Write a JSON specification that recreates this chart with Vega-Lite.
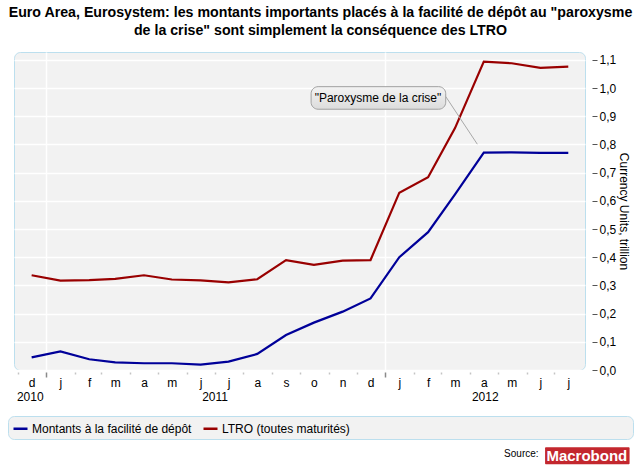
{
  "$schema": "https://vega.github.io/schema/vega-lite/v6.json",
  "width": 571,
  "height": 318,
  "autosize": {"type": "none"},
  "padding": {"left": 14, "top": 52, "right": 56, "bottom": 99},
  "background": "white",
  "view": {"fill": "#f2f2f2", "stroke": "#bcdfee", "strokeWidth": 1, "cornerRadius": 6},
  "title": {
    "text": ["Euro Area, Eurosystem: les montants importants placés à la facilité de dépôt au \"paroxysme", "de la crise\" sont simplement la conséquence des LTRO"],
    "anchor": "middle",
    "frame": "bounds",
    "fontSize": 14.2,
    "fontWeight": "bold",
    "color": "black",
    "lineHeight": 18,
    "offset": 14
  },
  "config": {
    "font": "Liberation Sans",
    "axis": {"labelColor": "black", "titleColor": "black", "labelFontSize": 12, "titleFontWeight": "normal", "titleFontSize": 12}
  },
  "data": {
    "values": [
      {"date": "2010-12-16T00:00:00", "serie": "Montants à la facilité de dépôt", "value": 0.045},
      {"date": "2011-01-16T00:00:00", "serie": "Montants à la facilité de dépôt", "value": 0.066},
      {"date": "2011-02-16T00:00:00", "serie": "Montants à la facilité de dépôt", "value": 0.038},
      {"date": "2011-03-16T00:00:00", "serie": "Montants à la facilité de dépôt", "value": 0.027},
      {"date": "2011-04-16T00:00:00", "serie": "Montants à la facilité de dépôt", "value": 0.024},
      {"date": "2011-05-16T00:00:00", "serie": "Montants à la facilité de dépôt", "value": 0.024},
      {"date": "2011-06-16T00:00:00", "serie": "Montants à la facilité de dépôt", "value": 0.019},
      {"date": "2011-07-16T00:00:00", "serie": "Montants à la facilité de dépôt", "value": 0.030},
      {"date": "2011-08-16T00:00:00", "serie": "Montants à la facilité de dépôt", "value": 0.057},
      {"date": "2011-09-16T00:00:00", "serie": "Montants à la facilité de dépôt", "value": 0.124},
      {"date": "2011-10-16T00:00:00", "serie": "Montants à la facilité de dépôt", "value": 0.168},
      {"date": "2011-11-16T00:00:00", "serie": "Montants à la facilité de dépôt", "value": 0.207},
      {"date": "2011-12-16T00:00:00", "serie": "Montants à la facilité de dépôt", "value": 0.254},
      {"date": "2012-01-16T00:00:00", "serie": "Montants à la facilité de dépôt", "value": 0.400},
      {"date": "2012-02-16T00:00:00", "serie": "Montants à la facilité de dépôt", "value": 0.489},
      {"date": "2012-03-16T00:00:00", "serie": "Montants à la facilité de dépôt", "value": 0.623},
      {"date": "2012-04-16T00:00:00", "serie": "Montants à la facilité de dépôt", "value": 0.771},
      {"date": "2012-05-16T00:00:00", "serie": "Montants à la facilité de dépôt", "value": 0.772},
      {"date": "2012-06-16T00:00:00", "serie": "Montants à la facilité de dépôt", "value": 0.770},
      {"date": "2012-07-16T00:00:00", "serie": "Montants à la facilité de dépôt", "value": 0.770},
      {"date": "2010-12-16T00:00:00", "serie": "LTRO (toutes maturités)", "value": 0.336},
      {"date": "2011-01-16T00:00:00", "serie": "LTRO (toutes maturités)", "value": 0.317},
      {"date": "2011-02-16T00:00:00", "serie": "LTRO (toutes maturités)", "value": 0.319},
      {"date": "2011-03-16T00:00:00", "serie": "LTRO (toutes maturités)", "value": 0.323},
      {"date": "2011-04-16T00:00:00", "serie": "LTRO (toutes maturités)", "value": 0.336},
      {"date": "2011-05-16T00:00:00", "serie": "LTRO (toutes maturités)", "value": 0.321},
      {"date": "2011-06-16T00:00:00", "serie": "LTRO (toutes maturités)", "value": 0.318},
      {"date": "2011-07-16T00:00:00", "serie": "LTRO (toutes maturités)", "value": 0.311},
      {"date": "2011-08-16T00:00:00", "serie": "LTRO (toutes maturités)", "value": 0.322},
      {"date": "2011-09-16T00:00:00", "serie": "LTRO (toutes maturités)", "value": 0.390},
      {"date": "2011-10-16T00:00:00", "serie": "LTRO (toutes maturités)", "value": 0.373},
      {"date": "2011-11-16T00:00:00", "serie": "LTRO (toutes maturités)", "value": 0.388},
      {"date": "2011-12-16T00:00:00", "serie": "LTRO (toutes maturités)", "value": 0.390},
      {"date": "2012-01-16T00:00:00", "serie": "LTRO (toutes maturités)", "value": 0.629},
      {"date": "2012-02-16T00:00:00", "serie": "LTRO (toutes maturités)", "value": 0.684},
      {"date": "2012-03-16T00:00:00", "serie": "LTRO (toutes maturités)", "value": 0.858},
      {"date": "2012-04-16T00:00:00", "serie": "LTRO (toutes maturités)", "value": 1.094},
      {"date": "2012-05-16T00:00:00", "serie": "LTRO (toutes maturités)", "value": 1.088},
      {"date": "2012-06-16T00:00:00", "serie": "LTRO (toutes maturités)", "value": 1.072},
      {"date": "2012-07-16T00:00:00", "serie": "LTRO (toutes maturités)", "value": 1.076}
    ]
  },
  "layer": [
    {
      "mark": {"type": "line", "strokeWidth": 2.2, "clip": false},
      "encoding": {
        "x": {
          "field": "date", "type": "temporal",
          "scale": {"domain": [{"year": 2010, "month": 11, "date": 27}, {"year": 2012, "month": 8, "date": 3}], "nice": false},
          "axis": {
            "orient": "bottom",
            "title": null,
            "values": [
              {"year": 2010, "month": 12, "date": 1}, {"year": 2011, "month": 1, "date": 1}, {"year": 2011, "month": 2, "date": 1},
              {"year": 2011, "month": 3, "date": 1}, {"year": 2011, "month": 4, "date": 1}, {"year": 2011, "month": 5, "date": 1},
              {"year": 2011, "month": 6, "date": 1}, {"year": 2011, "month": 7, "date": 1}, {"year": 2011, "month": 8, "date": 1},
              {"year": 2011, "month": 9, "date": 1}, {"year": 2011, "month": 10, "date": 1}, {"year": 2011, "month": 11, "date": 1},
              {"year": 2011, "month": 12, "date": 1}, {"year": 2012, "month": 1, "date": 1}, {"year": 2012, "month": 2, "date": 1},
              {"year": 2012, "month": 3, "date": 1}, {"year": 2012, "month": 4, "date": 1}, {"year": 2012, "month": 5, "date": 1},
              {"year": 2012, "month": 6, "date": 1}, {"year": 2012, "month": 7, "date": 1}
            ],
            "labels": false,
            "domain": false,
            "ticks": true,
            "offset": 2,
            "tickSize": {"condition": {"test": "month(datum.value) == 0", "value": 5}, "value": 2},
            "tickColor": {"condition": {"test": "month(datum.value) == 0", "value": "#8a8a8a"}, "value": "#c4c4c4"},
            "tickWidth": 1.5,
            "grid": true,
            "gridColor": "white",
            "gridWidth": 1.5,
            "gridOpacity": {"condition": {"test": "month(datum.value) == 0", "value": 1}, "value": 0}
          }
        },
        "y": {
          "field": "value", "type": "quantitative",
          "scale": {"domain": [0, 1.128], "nice": false, "zero": false},
          "axis": {
            "orient": "right",
            "values": [0, 0.1, 0.2, 0.3, 0.4, 0.5, 0.6, 0.7, 0.8, 0.9, 1.0, 1.1],
            "labelExpr": "replace(format(datum.value, '.1f'), '.', ',')",
            "domain": false,
            "ticks": true,
            "tickSize": 5,
            "tickColor": "#555555",
            "offset": 7,
            "labelPadding": 2,
            "labelFlush": false,
            "labelBaseline": "middle",
            "grid": true,
            "gridColor": "white",
            "gridWidth": 1.5,
            "title": "Currency Units, trillion",
            "titlePadding": 1
          }
        },
        "color": {
          "field": "serie", "type": "nominal",
          "scale": {"domain": ["Montants à la facilité de dépôt", "LTRO (toutes maturités)"], "range": ["#000099", "#990000"]},
          "legend": {
            "orient": "none",
            "legendX": -6,
            "legendY": 364,
            "direction": "horizontal",
            "title": " ",
            "titleOrient": "right",
            "titlePadding": 279,
            "fillColor": "#f2f2f2",
            "strokeColor": "#bcdfee",
            "cornerRadius": 6,
            "padding": 4,
            "symbolType": "stroke",
            "symbolSize": 196,
            "symbolStrokeWidth": 2.5,
            "labelFontSize": 12,
            "labelColor": "black",
            "labelOffset": 3,
            "labelLimit": 400,
            "columnPadding": 6
          }
        }
      }
    },
    {
      "data": {"values": [{}]},
      "mark": {"type": "rule", "color": "#a8a8a8", "strokeWidth": 1},
      "encoding": {
        "x": {
          "datum": {"year": 2012, "month": 3, "date": 6}, "type": "temporal",
          "scale": {"domain": [{"year": 2010, "month": 11, "date": 27}, {"year": 2012, "month": 8, "date": 3}], "nice": false},
          "axis": {
            "orient": "bottom",
            "title": null,
            "values": [
              {"year": 2010, "month": 12, "date": 16}, {"year": 2011, "month": 1, "date": 16}, {"year": 2011, "month": 2, "date": 16},
              {"year": 2011, "month": 3, "date": 16}, {"year": 2011, "month": 4, "date": 16}, {"year": 2011, "month": 5, "date": 16},
              {"year": 2011, "month": 6, "date": 16}, {"year": 2011, "month": 7, "date": 16}, {"year": 2011, "month": 8, "date": 16},
              {"year": 2011, "month": 9, "date": 16}, {"year": 2011, "month": 10, "date": 16}, {"year": 2011, "month": 11, "date": 16},
              {"year": 2011, "month": 12, "date": 16}, {"year": 2012, "month": 1, "date": 16}, {"year": 2012, "month": 2, "date": 16},
              {"year": 2012, "month": 3, "date": 16}, {"year": 2012, "month": 4, "date": 16}, {"year": 2012, "month": 5, "date": 16},
              {"year": 2012, "month": 6, "date": 16}, {"year": 2012, "month": 7, "date": 16}
            ],
            "labelExpr": "lower(slice(timeFormat(datum.value, '%b'), 0, 1))",
            "ticks": false,
            "domain": false,
            "grid": false,
            "labelPadding": 7,
            "labelFlush": false,
            "labelOverlap": false
          }
        },
        "x2": {"datum": {"year": 2012, "month": 4, "date": 9}},
        "y": {"datum": 0.97, "type": "quantitative", "scale": {"domain": [0, 1.128], "nice": false, "zero": false}, "axis": null},
        "y2": {"datum": 0.801}
      }
    },
    {
      "data": {"values": [{}]},
      "mark": {
        "type": "rect",
        "cornerRadius": 7,
        "stroke": "#a0a0a0",
        "strokeWidth": 1,
        "fill": {"gradient": "linear", "x1": 0, "y1": 0, "x2": 0, "y2": 1, "stops": [{"offset": 0, "color": "#f3f3f3"}, {"offset": 1, "color": "#dcdcdc"}]}
      },
      "encoding": {
        "x": {
          "datum": {"year": 2011, "month": 10, "date": 13}, "type": "temporal",
          "scale": {"domain": [{"year": 2010, "month": 11, "date": 27}, {"year": 2012, "month": 8, "date": 3}], "nice": false},
          "axis": {
            "orient": "bottom",
            "title": null,
            "values": [{"year": 2010, "month": 12, "date": 14}, {"year": 2011, "month": 7, "date": 1}, {"year": 2012, "month": 4, "date": 17}],
            "labelExpr": "timeFormat(datum.value, '%Y')",
            "ticks": false,
            "domain": false,
            "grid": false,
            "labelPadding": 21,
            "labelFlush": false,
            "labelOverlap": false
          }
        },
        "x2": {"datum": {"year": 2012, "month": 3, "date": 6}},
        "y": {"datum": 1.005, "type": "quantitative", "scale": {"domain": [0, 1.128], "nice": false, "zero": false}, "axis": null},
        "y2": {"datum": 0.925}
      }
    },
    {
      "data": {"values": [{"label": "\"Paroxysme de la crise\""}]},
      "mark": {"type": "text", "fontSize": 12, "color": "black", "align": "center", "baseline": "middle"},
      "encoding": {
        "x": {"datum": {"year": 2011, "month": 12, "date": 24}, "type": "temporal", "scale": {"domain": [{"year": 2010, "month": 11, "date": 27}, {"year": 2012, "month": 8, "date": 3}], "nice": false}, "axis": null},
        "y": {"datum": 0.965, "type": "quantitative", "scale": {"domain": [0, 1.128], "nice": false, "zero": false}, "axis": null},
        "text": {"field": "label"}
      }
    },
    {
      "data": {"values": [{"label": "Source:"}]},
      "mark": {"type": "text", "fontSize": 10, "color": "black", "align": "right", "baseline": "middle"},
      "encoding": {
        "x": {"datum": {"year": 2012, "month": 6, "date": 14}, "type": "temporal", "scale": {"domain": [{"year": 2010, "month": 11, "date": 27}, {"year": 2012, "month": 8, "date": 3}], "nice": false}, "axis": null},
        "y": {"datum": -0.299, "type": "quantitative", "scale": {"domain": [0, 1.128], "nice": false, "zero": false}, "axis": null},
        "text": {"field": "label"}
      }
    },
    {
      "data": {"values": [{}]},
      "mark": {"type": "rect", "fill": "#c3272e", "cornerRadius": 1},
      "encoding": {
        "x": {"datum": {"year": 2012, "month": 6, "date": 21}, "type": "temporal", "scale": {"domain": [{"year": 2010, "month": 11, "date": 27}, {"year": 2012, "month": 8, "date": 3}], "nice": false}, "axis": null},
        "x2": {"datum": {"year": 2012, "month": 9, "date": 20}},
        "y": {"datum": -0.274, "type": "quantitative", "scale": {"domain": [0, 1.128], "nice": false, "zero": false}, "axis": null},
        "y2": {"datum": -0.334}
      }
    },
    {
      "data": {"values": [{"label": "Macrobond"}]},
      "mark": {"type": "text", "fontSize": 15, "fontWeight": "bold", "color": "white", "align": "center", "baseline": "middle"},
      "encoding": {
        "x": {"datum": {"year": 2012, "month": 8, "date": 5}, "type": "temporal", "scale": {"domain": [{"year": 2010, "month": 11, "date": 27}, {"year": 2012, "month": 8, "date": 3}], "nice": false}, "axis": null},
        "y": {"datum": -0.304, "type": "quantitative", "scale": {"domain": [0, 1.128], "nice": false, "zero": false}, "axis": null},
        "text": {"field": "label"}
      }
    }
  ],
  "resolve": {"axis": {"x": "independent", "y": "independent"}}
}
